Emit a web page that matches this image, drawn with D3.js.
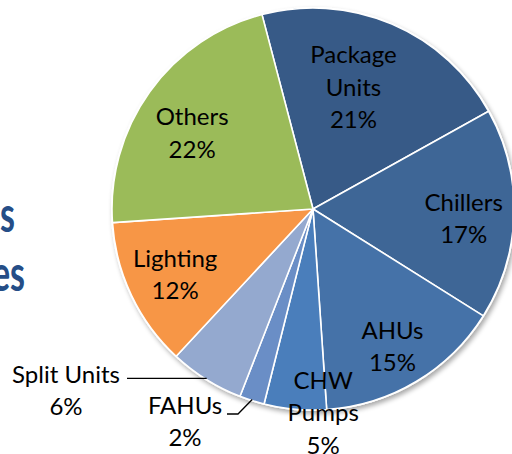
<!DOCTYPE html>
<html>
<head>
<meta charset="utf-8">
<script src="https://cdn.jsdelivr.net/npm/d3@7"></script>
<style>
  html, body { margin: 0; padding: 0; background: #fff; }
  svg { display: block; font-family: Lato, "Open Sans", sans-serif; }
</style>
</head>
<body>
<div id="pie"></div>
<script>
var categories = ["Package Units", "Chillers", "AHUs", "CHW Pumps", "FAHUs", "Split Units", "Lighting", "Others"];
var shares = [21, 17, 15, 5, 2, 6, 12, 22];
var sliceColors = ["#375a87", "#3e6696", "#4572a8", "#4a7ebb", "#6a8ec6", "#94a9cf", "#f79646", "#9bbb59"];
var labelLines = [["Package", "Units"], ["Chillers"], ["AHUs"], ["CHW", "Pumps"], ["FAHUs"], ["Split Units"], ["Lighting"], ["Others"]];
var titleTails = ["s", "es"];

var width = 512, height = 454;
var cx = 313, cy = 209, radius = 201;
var lineH = 32.5;

// label placement tweaks (radius ratio and nudge), by slice
var labelPos = {
  "Package Units": { r: 0.64, dx: -10, dy: -3 },
  "Chillers": { r: 0.75, dx: 0, dy: 6 },
  "AHUs": { r: 0.77, dx: 0, dy: 5 },
  "CHW Pumps": { r: 1.0, dx: 28, dy: 4 },
  "Lighting": { r: 0.76, dx: 0, dy: 0 },
  "Others": { r: 0.71, dx: -5, dy: 8 }
};
var outside = {
  "Split Units": { tx: 66, ty: 391, path: function(p) { return [p, [127, p[1]]]; } },
  "FAHUs": { tx: 185, ty: 422, path: function(p) { return [p, [238, 414], [227, 414]]; } }
};

var data = categories.map(function(c, i) { return { name: c, value: shares[i], lines: labelLines[i], color: sliceColors[i] }; });

var startA = -14.7 * Math.PI / 180;
var pie = d3.pie().sort(null).value(function(d) { return d.value; })
  .startAngle(startA).endAngle(startA + 2 * Math.PI);

var arc = d3.arc().innerRadius(0).outerRadius(radius);

var svg = d3.select("#pie").append("svg")
  .attr("width", width)
  .attr("height", height);

var defs = svg.append("defs");
var f = defs.append("filter").attr("id", "shadow").attr("x", "-10%").attr("y", "-10%").attr("width", "120%").attr("height", "120%");
f.append("feGaussianBlur").attr("in", "SourceAlpha").attr("stdDeviation", 2.5);
f.append("feOffset").attr("dx", 2).attr("dy", 3).attr("result", "b");
f.append("feComponentTransfer").append("feFuncA").attr("type", "linear").attr("slope", 0.35);
var m = f.append("feMerge");
m.append("feMergeNode");
m.append("feMergeNode").attr("in", "SourceGraphic");

// title fragment clipped at the left edge
svg.selectAll("text.title")
  .data(titleTails)
  .enter().append("text")
  .attr("class", "title")
  .attr("transform", function(d, i) { return "translate(" + [i ? 25 : 15, i ? 291 : 232] + ") scale(0.68,1)"; })
  .attr("text-anchor", "end")
  .attr("font-size", 50)
  .attr("font-weight", "bold")
  .attr("fill", "#254e87")
  .text(function(d) { return d; });

var g = svg.append("g")
  .attr("transform", "translate(" + cx + "," + cy + ")");

var arcs = pie(data);

g.append("circle").attr("r", radius + 1).attr("fill", "#fff").attr("filter", "url(#shadow)");

g.selectAll("path.slice")
  .data(arcs)
  .enter().append("path")
  .attr("class", "slice")
  .attr("d", arc)
  .attr("fill", function(d) { return d.data.color; })
  .attr("stroke", "#fff")
  .attr("stroke-width", 1.6)
  .attr("stroke-linejoin", "round");

// inside labels
arcs.forEach(function(d) {
  var name = d.data.name;
  var pct = d.data.value + "%";
  var lines = d.data.lines.concat([pct]);
  if (labelPos[name]) {
    var lp = labelPos[name];
    var la = d3.arc().innerRadius(radius * lp.r).outerRadius(radius * lp.r);
    var c = la.centroid(d);
    var x = c[0] + lp.dx, y = c[1] + lp.dy;
    var t = g.append("text")
      .attr("text-anchor", "middle")
      .attr("font-size", 24)
      .attr("fill", "#000");
    lines.forEach(function(s, k) {
      t.append("tspan")
        .attr("x", x)
        .attr("y", y + (k - (lines.length - 1) / 2) * lineH + 8)
        .text(s);
    });
  } else if (outside[name]) {
    var o = outside[name];
    var mid = (d.startAngle + d.endAngle) / 2;
    var p = [Math.sin(mid) * radius * 0.995, -Math.cos(mid) * radius * 0.995];
    var pts = o.path([p[0] + cx, p[1] + cy]).map(function(q) { return [q[0] - cx, q[1] - cy]; });
    g.append("path")
      .attr("d", d3.line()(pts))
      .attr("fill", "none")
      .attr("stroke", "#000")
      .attr("stroke-width", 1.3);
    var t2 = svg.append("text")
      .attr("text-anchor", "middle")
      .attr("font-size", 24)
      .attr("fill", "#000");
    lines.forEach(function(s, k) {
      t2.append("tspan")
        .attr("x", o.tx)
        .attr("y", o.ty + (k - (lines.length - 1) / 2) * lineH + 8)
        .text(s);
    });
  }
});
</script>
</body>
</html>
